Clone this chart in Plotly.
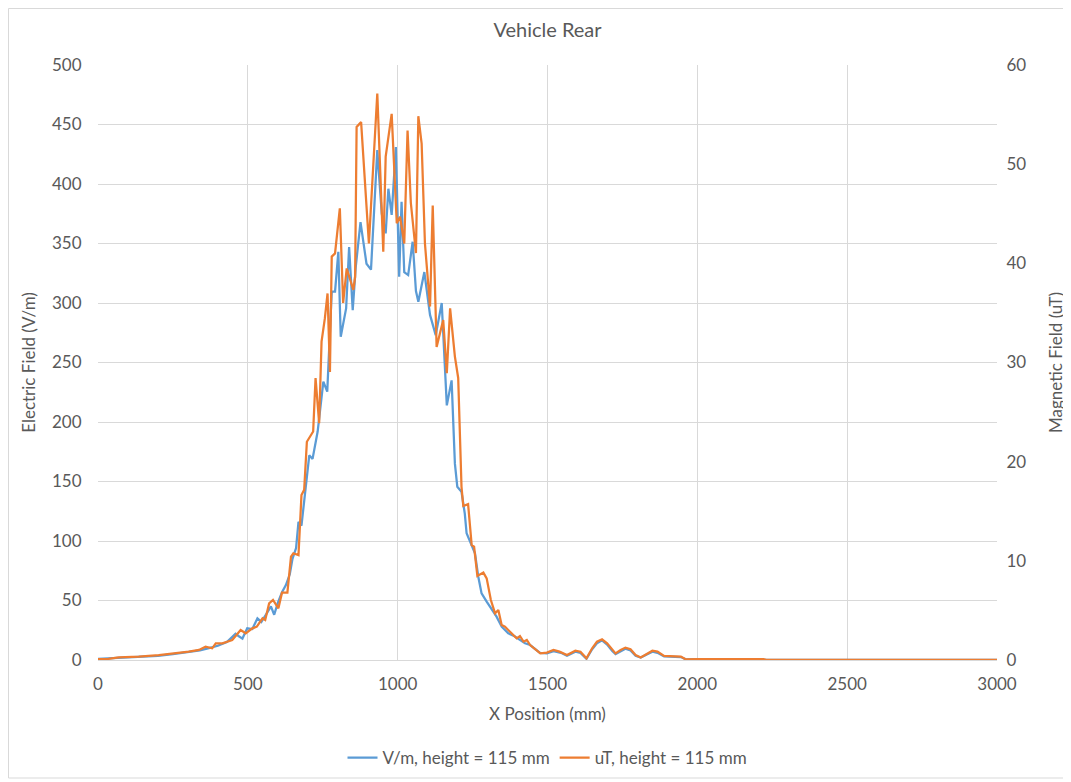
import plotly.graph_objects as go

# Electric field (V/m), left axis
x_e = [0, 50, 100, 150, 200, 250, 300, 340, 370, 400, 430, 459, 470, 482, 498, 515, 532, 545,
       560, 577, 588, 600, 614, 627, 640, 649, 661, 669, 679, 690, 705, 716, 733, 752, 765,
       780, 791, 802, 810, 828, 838, 850, 860, 876, 896, 911, 932, 947, 960, 969, 980, 994,
       1005, 1013, 1022, 1035, 1050, 1061, 1069, 1089, 1108, 1127, 1147, 1164, 1180, 1191,
       1199, 1213, 1224, 1230, 1241, 1258, 1269, 1280, 1297, 1314, 1330, 1347, 1369, 1390,
       1408, 1425, 1442, 1475, 1498, 1520, 1545, 1565, 1593, 1610, 1630, 1649, 1665, 1682,
       1699, 1716, 1727, 1744, 1760, 1777, 1794, 1811, 1833, 1850, 1867, 1889, 1945, 1961,
       2000, 2100, 2200, 2230, 3000]
e_field = [1, 1.5, 2, 2.5, 3.5, 5, 6.5, 8, 10, 12, 15, 22, 20, 18, 26.6, 26, 35, 32,
           38, 45, 38, 48, 57, 63, 72, 85, 94, 116, 113, 140, 172, 169, 192, 234, 225.5,
           309.5, 309.5, 343, 271.7, 295.5, 347, 294, 330, 368, 333, 328, 428.5, 375, 358.5, 396, 374, 431,
           322, 385, 326, 323.5, 351.5, 310, 301, 326, 290, 273, 300, 214, 235, 165,
           145.6, 141.4, 123, 106.5, 99.4, 89.7, 70, 56, 49, 42, 36.4, 28, 22.4, 20,
           16.8, 14, 12.6, 6, 5.5, 7.5, 6, 3.5, 7, 6, 1, 9, 14, 16.5,
           13, 7.5, 5, 7.5, 9.5, 8, 3.5, 2, 5, 7, 6, 3, 2.5, 0.6,
           0.8, 0.8, 0.6, 0.1, 0.1]

# Magnetic field (uT), right axis
x_b = [0, 35, 69, 136, 203, 259, 303, 337, 359, 381, 393, 415, 448, 476, 493, 515, 530, 549,
       558, 571, 584, 602, 614, 632, 644, 652, 669, 679, 688, 697, 718, 726, 738, 746, 757,
       766, 774, 780, 791, 807, 818, 830, 852, 858, 863, 878, 904, 932, 952, 960, 980, 997,
       1008, 1022, 1033, 1044, 1061, 1069, 1080, 1091, 1102, 1108, 1117, 1130, 1152, 1164,
       1175, 1191, 1202, 1208, 1213, 1219, 1235, 1247, 1255, 1266, 1286, 1297, 1311, 1325,
       1336, 1347, 1358, 1380, 1397, 1408, 1420, 1431, 1442, 1469, 1476, 1498, 1520, 1540,
       1565, 1593, 1610, 1630, 1649, 1665, 1682, 1699, 1716, 1727, 1744, 1760, 1777, 1794,
       1811, 1833, 1850, 1867, 1889, 1945, 1961, 2000, 2220, 2230, 3000]
b_field = [0.1, 0.12, 0.26, 0.34, 0.5, 0.67, 0.84, 1.01, 1.34, 1.18, 1.68, 1.68, 2.02, 3.02, 2.69, 3.19, 3.36, 4.2,
           4.03, 5.71, 6.05, 5.21, 6.79, 6.79, 10.42, 10.76, 10.58, 16.63, 17.16, 22.01, 23.04, 28.44, 23.88, 32.1, 34.44,
           36.96, 29.04, 40.68, 41.0, 45.55, 36.0, 39.48, 37.32, 38.64, 53.76, 54.24, 42.0, 57.12, 41.16, 50.76, 55.08, 44.04,
           44.7, 42.0, 53.4, 46.08, 41.04, 54.84, 52.08, 42.0, 38.28, 35.64, 45.84, 31.56, 34.28, 28.92,
           35.46, 30.6, 28.44, 21.18, 17.47, 15.53, 15.72, 11.59, 11.42, 8.47, 8.81, 8.23, 6.05, 4.7,
           5.04, 3.53, 3.36, 2.69, 2.18, 2.42, 1.85, 2.02, 1.51, 0.84, 0.67, 0.74, 1.01, 0.84,
           0.5, 0.94, 0.84, 0.17, 1.18, 1.85, 2.09, 1.68, 1.01, 0.67, 1.01, 1.25, 1.08, 0.5,
           0.26, 0.67, 0.94, 0.84, 0.41, 0.34, 0.07, 0.1, 0.1, 0.01, 0.01]

x_ticks = [0, 500, 1000, 1500, 2000, 2500, 3000]

FONT = "Lato, 'Open Sans', sans-serif"
GREY = "#595959"
GRID = "#d9d9d9"
FS = 17

fig = go.Figure()
fig.add_trace(go.Scatter(x=x_e, y=e_field, mode="lines", name="V/m, height = 115 mm",
                         line=dict(color="#5B9BD5", width=2.25)))
fig.add_trace(go.Scatter(x=x_b, y=b_field, mode="lines", name="uT, height = 115 mm",
                         line=dict(color="#ED7D31", width=2.25), yaxis="y2"))

# page body has an 8px margin, so the figure is offset by 8px
fig.update_layout(
    width=1063, height=774,
    paper_bgcolor="white", plot_bgcolor="white",
    margin=dict(l=90, r=74, t=57, b=122, autoexpand=False),
    font=dict(family=FONT, size=FS, color=GREY),
    title=dict(text="Vehicle Rear", x=(547.5 - 8) / 1063, xanchor="center",
               y=1 - 22 / 774, yanchor="middle",
               font=dict(size=20, color=GREY, family=FONT)),
    xaxis=dict(range=[0, 3000], tickvals=x_ticks, showgrid=True, gridcolor=GRID, gridwidth=1,
               zeroline=False, showline=True, linecolor=GRID, linewidth=1,
               ticks="outside", ticklen=9, tickcolor="rgba(0,0,0,0)",
               tickfont=dict(size=FS, color=GREY), automargin=False,
               title=dict(text="X Position (mm)", font=dict(size=FS, color=GREY), standoff=14)),
    yaxis=dict(range=[0, 500], dtick=50, showgrid=True, gridcolor=GRID, gridwidth=1,
               zeroline=False, showline=False,
               ticks="outside", ticklen=12, tickcolor="rgba(0,0,0,0)",
               tickfont=dict(size=FS, color=GREY), automargin=False,
               title=dict(text="Electric Field (V/m)", font=dict(size=FS, color=GREY), standoff=12)),
    yaxis2=dict(range=[0, 60], dtick=10, overlaying="y", side="right", showgrid=False,
                zeroline=False, showline=False,
                ticks="outside", ticklen=5, tickcolor="rgba(0,0,0,0)",
                tickfont=dict(size=FS, color=GREY), automargin=False,
                title=dict(text="Magnetic Field (uT)", font=dict(size=FS, color=GREY), standoff=24)),
    legend=dict(orientation="h", x=0.5, xanchor="center", y=-0.1647, yanchor="middle",
                font=dict(size=FS, color=GREY), itemwidth=30, traceorder="normal"),
    showlegend=True,
)

# chart-area border (left/top edges kept just inside the figure)
fig.add_shape(type="rect", xref="paper", yref="paper",
              x0=(0.5 - 90) / 899, x1=(1058 - 90) / 899,
              y0=(652 - 770) / 595, y1=(652 - 0.5) / 595,
              line=dict(color=GRID, width=1), fillcolor="rgba(0,0,0,0)", layer="above")

fig.write_html("out.html")
